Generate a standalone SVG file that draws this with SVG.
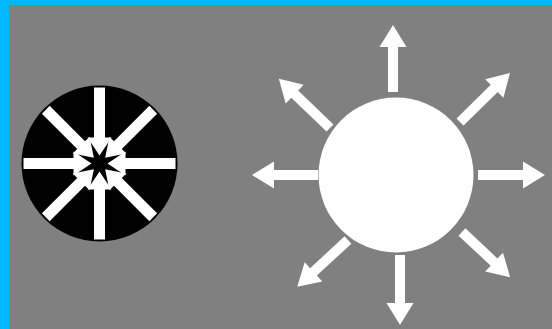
<svg xmlns="http://www.w3.org/2000/svg" width="552" height="329" viewBox="0 0 552 329">
  <style>
    .w { fill: #ffffff; }
    .k { fill: #000000; }
  </style>
  <defs>
    <path id="inArrow" d="M-76,-5.5 H-26 V-12 L-8,0 L-26,12 V5.5 H-76 Z"/>
  </defs>
  <rect x="0" y="0" width="552" height="329" fill="#808080"/>
  <rect x="0" y="0" width="552" height="5" fill="#00b8ff"/>
  <rect x="0" y="0" width="9" height="329" fill="#00b8ff"/>

  <g id="implosion">
    <circle class="k" cx="99.5" cy="163.5" r="78"/>
    <g transform="translate(99.5,163.5)" class="w">
      <use href="#inArrow" transform="rotate(0)"/>
      <use href="#inArrow" transform="rotate(45)"/>
      <use href="#inArrow" transform="rotate(90)"/>
      <use href="#inArrow" transform="rotate(135)"/>
      <use href="#inArrow" transform="rotate(180)"/>
      <use href="#inArrow" transform="rotate(225)"/>
      <use href="#inArrow" transform="rotate(270)"/>
      <use href="#inArrow" transform="rotate(315)"/>
    </g>
  </g>

  <g id="explosion">
    <circle class="w" cx="396" cy="175" r="77.5"/>
  </g>

  <g id="connectors" class="w">
    <path transform="translate(393,92) rotate(-90)" d="M0,-5 H45 V-13.5 L67,0 L45,13.5 V5 H0 Z"/>
    <path transform="translate(400,255) rotate(90)" d="M0,-5 H48 V-13.5 L70,0 L48,13.5 V5 H0 Z"/>
    <path transform="translate(318,175) rotate(180)" d="M0,-5 H44 V-13.5 L66,0 L44,13.5 V5 H0 Z"/>
    <path transform="translate(478,175) rotate(0)" d="M0,-5 H45 V-13.5 L67,0 L45,13.5 V5 H0 Z"/>
    <path transform="translate(330,128) rotate(-136.1)" d="M0,-5 H49 V-13 L71,0 L49,13 V5 H0 Z"/>
    <path transform="translate(460,122) rotate(-44.4)" d="M0,-5 H48 V-13 L70,0 L48,13 V5 H0 Z"/>
    <path transform="translate(348,240) rotate(137.3)" d="M0,-5 H47 V-13 L69,0 L47,13 V5 H0 Z"/>
    <path transform="translate(462,232) rotate(43.2)" d="M0,-5 H44 V-13 L66,0 L44,13 V5 H0 Z"/>
  </g>
</svg>
